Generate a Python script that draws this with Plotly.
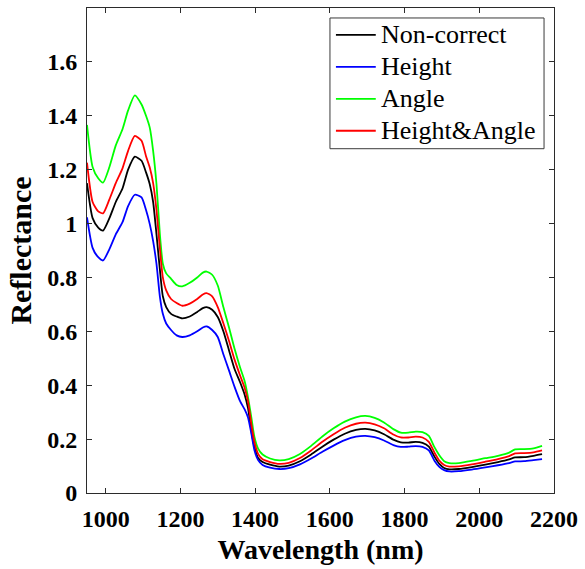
import plotly.graph_objects as go

# Wavelength grid (nm)
wavelength = [950, 965, 980, 993, 1010, 1027, 1045, 1060, 1078, 1096, 1108, 1118, 1127,
              1136, 1145, 1153, 1162, 1175, 1190, 1205, 1225, 1245, 1260, 1270, 1285,
              1300, 1315, 1330, 1345, 1360, 1372, 1381, 1390, 1398, 1408, 1420, 1440,
              1465, 1490, 1520, 1550, 1580, 1610, 1640, 1670, 1695, 1720, 1745, 1770,
              1790, 1810, 1830, 1848, 1865, 1880, 1893, 1906, 1920, 1945, 1980, 2016,
              2050, 2080, 2096, 2120, 2145, 2168]

non_correct = [1.150, 1.020, 0.985, 0.974, 1.020, 1.080, 1.130, 1.200, 1.248, 1.233, 1.190, 1.146, 1.080,
               0.960, 0.830, 0.730, 0.690, 0.665, 0.655, 0.648, 0.655, 0.672, 0.686, 0.690, 0.680,
               0.653, 0.600, 0.530, 0.460, 0.410, 0.365, 0.315, 0.230, 0.172, 0.130, 0.115, 0.105,
               0.098, 0.102, 0.118, 0.143, 0.172, 0.198, 0.220, 0.234, 0.238, 0.232, 0.218, 0.198,
               0.188, 0.187, 0.190, 0.186, 0.172, 0.135, 0.108, 0.093, 0.088, 0.089, 0.096, 0.105,
               0.115, 0.125, 0.132, 0.133, 0.138, 0.144]

height = [1.023, 0.910, 0.875, 0.863, 0.905, 0.960, 1.005, 1.065, 1.107, 1.097, 1.050, 0.998, 0.935,
          0.850, 0.730, 0.665, 0.629, 0.605, 0.585, 0.579, 0.585, 0.600, 0.614, 0.618, 0.605,
          0.579, 0.515, 0.455, 0.394, 0.340, 0.310, 0.280, 0.220, 0.160, 0.122, 0.104, 0.094,
          0.089, 0.092, 0.106, 0.128, 0.153, 0.176, 0.196, 0.209, 0.212, 0.207, 0.195, 0.178,
          0.171, 0.172, 0.174, 0.171, 0.158, 0.120, 0.097, 0.085, 0.080, 0.081, 0.087, 0.095,
          0.103, 0.111, 0.117, 0.118, 0.122, 0.126]

angle = [1.366, 1.210, 1.168, 1.152, 1.210, 1.290, 1.350, 1.420, 1.476, 1.442, 1.400, 1.356, 1.270,
         1.146, 0.962, 0.851, 0.815, 0.795, 0.772, 0.767, 0.780, 0.800, 0.818, 0.822, 0.810,
         0.770, 0.690, 0.615, 0.535, 0.465, 0.415, 0.355, 0.280, 0.209, 0.165, 0.143, 0.128,
         0.121, 0.126, 0.145, 0.175, 0.210, 0.240, 0.265, 0.281, 0.286, 0.279, 0.262, 0.237,
         0.224, 0.224, 0.228, 0.226, 0.212, 0.170, 0.140, 0.118, 0.111, 0.111, 0.119, 0.129,
         0.138, 0.150, 0.162, 0.163, 0.166, 0.175]

height_angle = [1.226, 1.080, 1.045, 1.038, 1.090, 1.150, 1.205, 1.270, 1.325, 1.307, 1.250, 1.208, 1.150,
                1.050, 0.910, 0.800, 0.752, 0.720, 0.705, 0.695, 0.703, 0.720, 0.737, 0.742, 0.730,
                0.690, 0.630, 0.565, 0.495, 0.435, 0.390, 0.340, 0.255, 0.190, 0.145, 0.125, 0.115,
                0.108, 0.112, 0.130, 0.158, 0.190, 0.218, 0.242, 0.257, 0.261, 0.255, 0.240, 0.217,
                0.206, 0.206, 0.209, 0.206, 0.190, 0.150, 0.120, 0.104, 0.098, 0.099, 0.106, 0.116,
                0.126, 0.137, 0.147, 0.148, 0.151, 0.158]

series_names = ["Non-correct", "Height", "Angle", "Height&Angle"]
series_values = [non_correct, height, angle, height_angle]
series_colors = ["#000000", "#0000ff", "#00ff00", "#ff0000"]

x_ticks = [1000, 1200, 1400, 1600, 1800, 2000, 2200]
y_ticks = [0, 0.2, 0.4, 0.6, 0.8, 1.0, 1.2, 1.4, 1.6]
y_tick_text = ["0", "0.2", "0.4", "0.6", "0.8", "1", "1.2", "1.4", "1.6"]

# Figure and plot-area geometry (pixels)
W, H = 585, 569
M_L, M_R, M_T, M_B = 87, 29, 7, 76
PLOT_W = W - M_L - M_R
PLOT_H = H - M_T - M_B


def px_x(px):
    """Horizontal pixel position -> paper fraction of the plot area."""
    return (px - M_L) / PLOT_W


def px_y(py):
    """Vertical pixel position (from top) -> paper fraction of the plot area."""
    return (H - M_B - py) / PLOT_H


fig = go.Figure()
for name, vals, col in zip(series_names, series_values, series_colors):
    fig.add_trace(go.Scatter(
        x=wavelength, y=vals, mode="lines", name=name, showlegend=False,
        line=dict(color=col, width=1.8, shape="spline", smoothing=0.6),
    ))

serif = "Liberation Serif, Times New Roman, serif"

# Boxed legend in the upper right corner
LEG_LEFT, LEG_RIGHT, LEG_TOP, LEG_BOTTOM = 331, 546, 17, 148
ROW0, ROW_STEP = 34, 32
SAMPLE_X0, SAMPLE_X1, TEXT_X = 337, 377, 380

shapes = [dict(type="rect", xref="paper", yref="paper",
               x0=px_x(LEG_LEFT), x1=px_x(LEG_RIGHT),
               y0=px_y(LEG_BOTTOM), y1=px_y(LEG_TOP),
               line=dict(color="#3a3a3a", width=1), fillcolor="#ffffff", layer="above")]
annotations = []
for i, (name, col) in enumerate(zip(series_names, series_colors)):
    yy = px_y(ROW0 + i * ROW_STEP)
    shapes.append(dict(type="line", xref="paper", yref="paper",
                       x0=px_x(SAMPLE_X0), x1=px_x(SAMPLE_X1), y0=yy, y1=yy,
                       line=dict(color=col, width=1.8), layer="above"))
    annotations.append(dict(xref="paper", yref="paper", x=px_x(TEXT_X), y=yy,
                            xanchor="left", yanchor="middle", showarrow=False,
                            text=name, font=dict(family=serif, size=26, color="#000000")))

axis_common = dict(
    showline=True, linecolor="#2b2b2b", linewidth=1, mirror="ticks",
    ticks="inside", ticklen=5, tickcolor="#2b2b2b", tickwidth=1,
    showgrid=False, zeroline=False,
    tickfont=dict(family=serif, size=24, color="#000000", weight="bold"),
)

fig.update_layout(
    width=W, height=H,
    margin=dict(l=M_L, r=M_R, t=M_T, b=M_B),
    paper_bgcolor="#ffffff", plot_bgcolor="#ffffff",
    showlegend=False,
    shapes=shapes, annotations=annotations,
    xaxis=dict(
        range=[950, 2200], tickvals=x_ticks, ticklabelstandoff=4,
        title=dict(text="Wavelength (nm)", standoff=8,
                   font=dict(family=serif, size=28, color="#000000", weight="bold")),
        **axis_common,
    ),
    yaxis=dict(
        range=[0, 1.8], tickvals=y_ticks, ticktext=y_tick_text, ticklabelstandoff=4,
        title=dict(text="Reflectance", standoff=6,
                   font=dict(family=serif, size=30, color="#000000", weight="bold")),
        **axis_common,
    ),
)

fig.write_html("out.html")
